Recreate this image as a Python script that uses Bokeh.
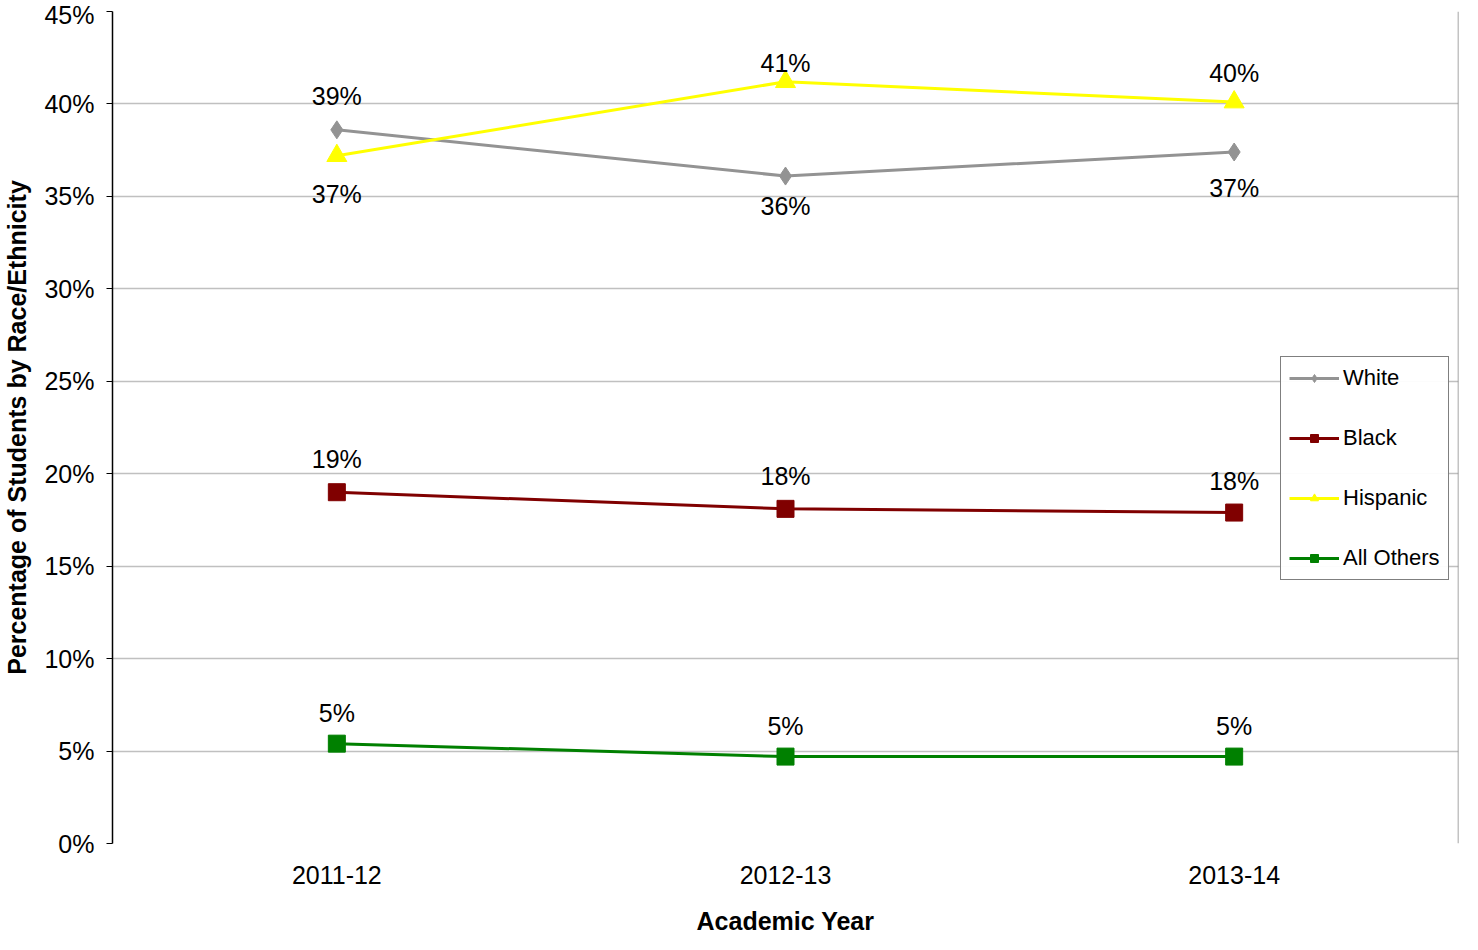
from bokeh.plotting import figure
from bokeh.models import (Legend, LegendItem, NumeralTickFormatter, ColumnDataSource,
                          FactorRange, Grid, FixedTicker, Span)
from bokeh.core.properties import value
from bokeh.embed import file_html
from bokeh.resources import INLINE

years = ["2011-12", "2012-13", "2013-14"]
white = [0.386, 0.361, 0.374]
black = [0.190, 0.181, 0.179]
hispanic = [0.372, 0.412, 0.401]
others = [0.054, 0.047, 0.047]

white_lbl = ["39%", "36%", "37%"]
black_lbl = ["19%", "18%", "18%"]
hispanic_lbl = ["37%", "41%", "40%"]
others_lbl = ["5%", "5%", "5%"]

FONT = "Liberation Sans"
PLOT_W = 1146
FULL_W = 1346  # frame incl. room for legend

x_range = FactorRange(factors=years, start=0, end=len(years) * FULL_W / PLOT_W)
p = figure(x_range=x_range, y_range=(0, 0.45), frame_width=FULL_W, frame_height=832,
           output_backend="svg", toolbar_location=None,
           min_border_left=111, min_border_top=11, min_border_bottom=0, min_border_right=8)
p.outline_line_color = None
p.xgrid.grid_line_color = None
p.ygrid.grid_line_color = "#c0c0c0"
p.ygrid.grid_line_width = 1.5
p.ygrid.cross_bounds = (0, len(years))
p.yaxis.ticker = [i * 0.05 for i in range(10)]
p.yaxis.formatter = NumeralTickFormatter(format="0%")
p.yaxis.minor_tick_line_color = None
p.yaxis.major_tick_in = 0
p.yaxis.major_tick_out = 6
p.xaxis.major_tick_line_color = None
p.xaxis.axis_line_color = None
p.yaxis.axis_line_color = "black"
p.yaxis.axis_line_width = 1.5
for ax in (p.xaxis, p.yaxis):
    ax.major_label_text_font = FONT
    ax.major_label_text_font_size = "25px"
    ax.axis_label_text_font = FONT
    ax.axis_label_text_font_style = "bold"
    ax.axis_label_text_font_size = "25px"
    ax.axis_label_text_color = "black"
    ax.major_label_text_color = "black"
p.xaxis.axis_label = "Academic Year"
p.yaxis.axis_label = "Percentage of Students by Race/Ethnicity"
p.xaxis.axis_label_standoff = 20
p.yaxis.axis_label_standoff = 10
p.xaxis.major_label_standoff = 16
p.yaxis.major_label_standoff = 12
# shift x tick labels / axis label back over the plot area
p.xaxis.axis_label_text_align = "center"

base = Grid(dimension=1, ticker=FixedTicker(ticks=[0]), grid_line_color="black",
            grid_line_width=1.5, cross_bounds=(0, len(years)))
p.add_layout(base)
p.add_layout(Span(location=len(years), dimension="height", line_color="#888888",
                  line_width=1.5))

series = [
    ("White", white, white_lbl, "#939393", "diamond", 18, [34, -30, -36]),
    ("Black", black, black_lbl, "#800000", "square", 17, [33, 33, 32]),
    ("Hispanic", hispanic, hispanic_lbl, "#ffff00", "triangle", 20, [-38, 19, 29]),
    ("All Others", others, others_lbl, "#008000", "square", 17, [31, 31, 31]),
]

items = []
for name, vals, lbls, color, marker, size, offs in series:
    src = ColumnDataSource(dict(x=years, y=vals, t=lbls, off=[-o for o in offs]))
    r1 = p.line("x", "y", source=src, line_color=color, line_width=3)
    r2 = p.scatter("x", "y", source=src, marker=marker, size=size,
                   fill_color=color, line_color=color)
    p.text("x", "y", text="t", source=src, y_offset="off", text_align="center",
           text_baseline="middle", text_font=value(FONT), text_font_size="25px",
           text_color="black")
    items.append(LegendItem(label=name, renderers=[r1, r2]))

legend = Legend(items=items, label_text_font=FONT, label_text_font_size="22px",
                label_text_color="black",
                border_line_color="black", border_line_width=1.5,
                spacing=34, padding=8, glyph_width=50, margin=0,
                label_standoff=4, location=(1168, 263))
p.add_layout(legend, "center")

open("out.html", "w").write(file_html(p, INLINE))
